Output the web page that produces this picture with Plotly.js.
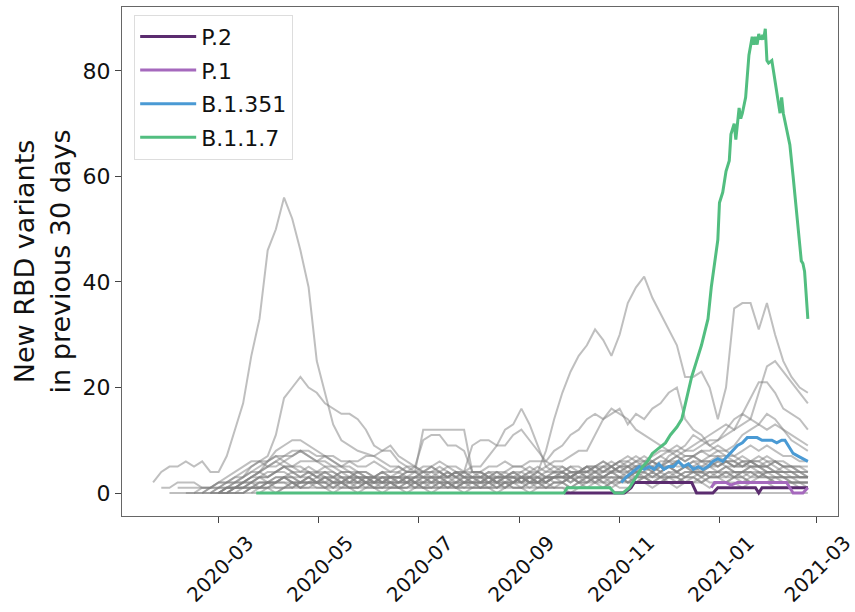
<!DOCTYPE html>
<html>
<head>
<meta charset="utf-8">
<script src="https://cdn.plot.ly/plotly-3.0.1.min.js"></script>
<style>html,body{margin:0;padding:0;background:#fff;}#chart{width:855px;height:612px;}</style>
</head>
<body>
<div id="chart"></div>
<script>
// ---- shared x grid for background (gray) series: every 5 days from 2020-01-21 (81 points) ----
const gridStart = '2020-01-21';
const gridStepDays = 5;
const gridCount = 81;

// ---- background RBD variant series (gray), one value per grid date ----
const gray01 = [2,4,5,5,6,5,6,4,4,7,
  12,17,26,33,46,50,56,52,46,39,
  25,19,13,10,9,8,7.5,7,6,5,
  5,4,4,3,3,4,3,3,2,3,
  2,2,3,2,2,3,2,2,1,2,
  2,3,2,2,3,3,2,3,2,3,
  3,2,2,3,3,2,2,3,2,2,
  2,3,3,2,2,2,3,2,2,2,
  2];
const gray02 = [null,null,null,1,1,1,1,1,2,2,
  3,4,5,6,7,11,18,20,22,20,
  19,17,16,15,15,14,12,9,8,8,
  6,5,5,4,4,5,4,3,4,3,
  3,4,3,3,3,2,3,3,2,3,
  3,3,4,3,3,3,4,3,3,4,
  3,3,4,3,3,4,4,3,4,4,
  5,4,4,5,4,4,4,3,3,3,
  3];
const gray03 = [null,null,null,null,null,null,null,null,0,1,
  1,2,2,3,3,4,4,3,3,4,
  3,3,3,4,3,3,3,2,3,3,
  2,3,3,4,3,3,4,3,3,4,
  4,3,4,3,4,4,3,4,8,14,
  19,23,26,28,31,29,26,30,36,39,
  41,37,34,31,28,22,22,23,20,14,
  20,35,36,36,31,36,30,25,22,20,
  19];
const gray04 = [null,null,null,null,null,null,null,null,null,null,
  null,0,1,1,2,2,3,2,2,3,
  2,2,3,2,2,3,2,2,3,2,
  2,2,3,3,2,3,2,2,3,2,
  3,3,2,3,3,4,5,4,5,6,
  6,7,8,8,11,14,15,16,13,15,
  14,16,17,19,20,14,12,11,9,8,
  7,7,6,6,5,5,4,4,4,3,
  3];
const gray05 = [null,null,null,null,null,null,null,null,null,null,
  null,null,null,null,null,0,1,1,2,2,
  2,3,2,2,3,2,3,3,2,3,
  3,2,3,3,2,3,3,4,3,3,
  4,3,4,4,5,5,6,6,6,8,
  9,11,12,14,15,14,16,15,14,12,
  11,10,9,8,8,7,7,6,6,7,
  6,6,5,5,5,4,4,4,3,3,
  3];
const gray06 = [null,null,null,null,null,null,null,null,0,1,
  1,1,2,2,2,3,3,2,2,3,
  2,3,2,2,3,2,2,3,2,2,
  3,2,2,3,3,2,3,2,2,3,
  3,2,3,3,2,3,3,4,3,4,
  4,5,4,5,5,6,5,6,6,7,
  6,7,8,8,9,8,9,10,9,10,
  11,12,13,14,19,24,25,23,21,19,
  17];
const gray07 = [null,null,null,null,null,null,null,null,null,0,
  0,1,1,2,2,2,3,3,2,2,
  3,2,2,3,2,2,3,2,2,2,
  2,3,2,2,3,2,2,3,2,2,
  2,3,2,2,3,3,2,3,3,4,
  3,4,4,5,4,5,5,6,5,6,
  5,6,5,7,8,9,11,10,11,12,
  13,12,15,18,21,21,19,16,15,14,
  12];
const gray08 = [null,null,null,null,null,null,null,null,null,null,
  null,null,0,1,1,2,2,1,2,2,
  2,1,2,2,1,2,2,1,2,2,
  1,2,2,1,2,2,2,1,2,2,
  2,2,1,2,2,3,2,2,3,3,
  4,3,4,4,5,5,4,5,6,5,
  6,6,7,6,7,8,8,9,10,10,
  12,14,15,14,13,15,14,12,11,10,
  9];
const gray09 = [null,null,null,null,null,null,null,null,null,null,
  null,null,null,0,1,1,1,2,1,1,
  2,1,1,2,1,1,2,1,1,2,
  1,1,2,1,1,2,1,1,2,1,
  1,2,2,1,2,2,2,3,2,3,
  3,3,4,3,4,4,5,4,5,5,
  5,6,5,6,6,7,7,8,8,9,
  8,9,11,12,13,12,13,12,10,9,
  8];
const gray10 = [null,null,null,null,0,0,1,1,1,2,
  2,3,4,5,6,7,7,8,8,7,
  6,5,5,4,4,3,3,3,2,3,
  3,3,4,12,12,12,12,12,12,4,
  3,3,2,3,3,2,3,2,3,3,
  2,3,3,2,3,3,4,3,3,4,
  4,3,4,5,4,5,4,4,5,4,
  5,4,4,5,5,4,4,5,4,4,
  3];
const gray11 = [null,null,null,null,null,null,0,0,1,1,
  2,2,3,4,6,8,9,10,10,9,
  8,7,6,5,5,4,4,3,3,3,
  3,4,5,10,11,11,9,9,8,4,
  4,3,3,3,2,3,3,2,2,3,
  3,2,3,3,2,3,3,2,3,3,
  3,4,3,3,4,3,4,4,3,4,
  4,3,4,4,3,4,4,3,3,3,
  3];
const gray12 = [null,null,null,null,null,null,null,0,0,1,
  1,2,3,4,5,6,7,7,8,8,
  7,7,6,5,4,4,3,3,4,3,
  3,3,2,3,3,3,4,3,4,9,
  10,10,9,9,11,12,10,8,6,5,
  5,4,4,5,4,5,6,5,5,6,
  6,5,6,6,7,6,7,6,7,7,
  7,6,7,6,6,7,6,6,5,5,
  5];
const gray13 = [null,null,null,null,null,null,null,null,0,0,
  1,1,2,3,3,4,5,5,6,6,
  6,7,7,6,6,5,5,6,5,4,
  4,5,4,4,5,4,3,4,4,5,
  5,7,9,12,13,16,13,9,5,4,
  4,3,4,4,5,4,5,4,5,4,
  5,4,5,5,4,5,6,5,6,5,
  6,5,5,6,5,5,6,5,5,4,
  4];
const gray14 = [null,null,0,0,0,0,0,0,0,0,
  0,0,0,0,0,0,0,0,0,0,
  0,0,0,0,0,0,0,0,0,0,
  0,0,0,0,0,0,0,0,0,0,
  0,0,0,0,0,0,0,0,0,0,
  0,0,0,0,0,0,0,0,0,0,
  0,0,0,0,0,0,0,0,0,0,
  0,0,0,0,0,0,0,0,0,0,
  0];
const gray15 = [null,1,1,2,2,2,1,1,2,2,
  3,3,4,4,3,4,5,4,3,4,
  3,4,3,3,2,3,2,3,3,2,
  2,3,2,2,1,2,2,1,2,2,
  1,2,1,1,2,1,2,2,1,2,
  2,1,2,2,3,2,2,3,2,2,
  3,2,3,3,2,3,3,2,3,3,
  2,3,3,2,3,3,2,2,2,1,
  1];
const gray16 = [null,null,null,null,null,0,0,1,1,2,
  2,3,5,6,6,7,6,5,5,4,
  4,5,4,3,3,4,3,2,3,3,
  4,3,3,4,5,4,3,4,3,3,
  2,3,3,4,3,3,4,3,4,5,
  4,5,5,4,5,6,5,6,7,6,
  7,6,7,8,7,6,7,8,7,8,
  8,7,8,9,8,9,8,7,7,6,
  6];
const gray17 = [null,null,null,null,null,null,null,0,0,1,
  1,1,2,1,2,2,3,2,2,3,
  2,2,1,2,1,1,2,1,1,1,
  1,1,2,1,1,1,2,1,1,1,
  1,1,1,2,1,1,1,1,2,1,
  2,1,1,2,2,1,2,2,3,2,
  3,2,2,3,3,2,3,4,3,3,
  4,3,4,4,3,4,3,3,3,2,
  2];
const gray18 = [null,null,null,null,null,null,null,null,0,0,
  1,1,1,2,2,3,3,4,3,3,
  4,3,3,2,3,3,2,2,2,3,
  2,2,3,2,3,3,2,2,3,2,
  2,3,2,3,3,2,3,3,2,3,
  3,3,2,3,4,3,4,4,3,4,
  4,5,4,5,4,5,5,4,5,5,
  6,5,5,6,6,5,6,5,5,4,
  4];
const gray19 = [null,null,null,null,null,null,null,null,null,0,
  0,0,1,1,1,0,1,1,1,1,
  1,1,0,1,1,0,1,1,0,1,
  1,0,1,1,0,1,1,1,0,1,
  1,1,0,1,1,1,0,1,1,1,
  1,0,1,1,1,1,2,1,1,2,
  2,1,2,2,1,2,2,2,1,2,
  2,2,1,2,2,2,1,1,1,1,
  1];
const gray20 = [null,null,null,null,null,null,0,1,2,3,
  4,5,6,6,5,6,5,5,4,5,
  4,4,3,4,4,3,3,3,4,3,
  3,4,4,5,5,6,5,5,4,4,
  4,5,5,6,5,5,4,5,4,4,
  5,4,4,5,5,4,5,4,4,5,
  5,4,5,6,5,5,4,5,5,6,
  5,5,6,5,5,6,5,4,4,4,
  3];
const gray21 = [null,null,null,null,null,null,null,null,0,1,
  1,2,3,4,5,5,6,7,8,7,
  6,6,5,5,6,6,7,7,8,9,
  7,6,5,4,4,3,3,4,3,3,
  3,2,3,3,4,3,3,2,3,3,
  3,4,3,4,4,3,4,5,4,5,
  5,6,5,5,6,5,6,6,5,6,
  6,5,6,6,5,5,4,4,4,3,
  3];
const gray22 = [null,null,null,null,null,null,null,0,1,1,
  2,2,2,3,2,2,3,3,2,2,
  2,3,2,2,2,1,2,2,2,1,
  2,2,1,2,2,2,1,2,2,2,
  2,1,2,2,2,3,2,2,2,3,
  3,2,3,3,2,3,3,3,4,3,
  3,4,3,4,4,3,4,4,4,3,
  4,4,3,4,4,3,3,3,2,2,
  2];
const gray23 = [null,null,null,null,null,null,null,null,null,0,
  1,1,1,1,2,1,1,2,1,2,
  1,1,2,1,1,1,1,2,1,1,
  1,2,1,1,1,1,2,1,1,2,
  1,1,1,2,1,1,2,1,1,1,
  1,1,2,1,2,2,1,2,2,2,
  2,2,3,2,2,3,3,2,3,3,
  3,3,2,3,3,3,2,2,2,2,
  1];
const gray24 = [null,null,null,null,null,null,null,null,0,0,
  1,2,3,3,4,4,5,4,4,4,
  3,4,4,3,3,4,4,3,4,4,
  5,4,4,3,4,4,5,4,4,3,
  3,4,4,3,4,3,4,4,3,3,
  4,3,4,4,3,4,4,5,5,4,
  5,5,4,5,6,5,5,6,6,5,
  6,6,5,6,7,6,6,5,5,5,
  4];
const gray25 = [null,null,null,null,null,null,null,null,null,null,
  0,0,1,1,1,2,2,2,1,2,
  2,2,1,1,2,2,1,1,1,2,
  1,1,1,2,2,1,1,2,1,1,
  2,2,2,1,2,2,1,2,3,2,
  2,3,2,3,3,2,3,3,2,3,
  4,3,3,4,3,4,4,3,4,4,
  3,4,4,3,4,3,3,3,2,2,
  2];

// ---- named variants ----
const variantNames = ['P.2', 'P.1', 'B.1.351', 'B.1.1.7'];

const p2Dates = ['2020-09-28','2020-10-30','2020-11-04','2020-11-08','2020-11-10','2020-12-15','2020-12-18','2020-12-28','2020-12-31','2021-01-23','2021-01-25','2021-01-27','2021-02-24'];
const p2Values = [0,0,0,1,2,2,0,0,1,1,0,1,1];

const p1Dates = ['2020-12-27','2020-12-29','2021-01-05','2021-01-08','2021-01-12','2021-01-20','2021-01-28','2021-02-05','2021-02-11','2021-02-13','2021-02-15','2021-02-21','2021-02-24'];
const p1Values = [1,2,2,1.5,2,2,2,2,2,1,0,0,1];

const b1351Dates = ['2020-11-02','2020-11-05','2020-11-09','2020-11-13','2020-11-16','2020-11-19','2020-11-22','2020-11-25','2020-11-28','2020-12-01','2020-12-04','2020-12-07','2020-12-10','2020-12-13','2020-12-16','2020-12-19','2020-12-22','2020-12-25','2020-12-28','2020-12-31','2021-01-03','2021-01-06','2021-01-09','2021-01-12','2021-01-15','2021-01-18','2021-01-21','2021-01-24','2021-01-27','2021-01-30','2021-02-02','2021-02-05','2021-02-08','2021-02-10','2021-02-12','2021-02-15','2021-02-18','2021-02-21','2021-02-24'];
const b1351Values = [2,3,4,5,4.5,5,4.5,5.5,4.5,5,5,6,5,5.5,4.5,5,4.5,5,6,6.5,6,7,8,9,9.5,10.5,10.5,10.5,10,10,10,9.5,10,10,9,7.5,7,6.5,6];

const b117Dates = ['2020-03-24','2020-09-28','2020-09-30','2020-10-26','2020-10-29','2020-11-03','2020-11-07','2020-11-11','2020-11-15','2020-11-18','2020-11-21','2020-11-25','2020-11-29','2020-12-02','2020-12-06','2020-12-09','2020-12-12','2020-12-15','2020-12-18','2020-12-21','2020-12-23','2020-12-25','2020-12-27','2020-12-29','2020-12-31','2021-01-01','2021-01-03','2021-01-05','2021-01-07','2021-01-08','2021-01-09','2021-01-10','2021-01-11','2021-01-12','2021-01-13','2021-01-14','2021-01-15','2021-01-17','2021-01-19','2021-01-21','2021-01-22','2021-01-23','2021-01-24','2021-01-25','2021-01-26','2021-01-27','2021-01-28','2021-01-29','2021-01-30','2021-01-31','2021-02-02','2021-02-03','2021-02-05','2021-02-07','2021-02-08','2021-02-09','2021-02-11','2021-02-13','2021-02-15','2021-02-17','2021-02-19','2021-02-20','2021-02-21','2021-02-22','2021-02-24'];
const b117Values = [0,0,1,1,0,0,1,3,5,6,7.5,8.5,9.5,11,12.5,14,18,22,25,28,30.5,33,39,44,48,55,57,61,63,68,69,70,67,70,73,71,72,75,83,86.5,85,86.5,85,87,86,86.5,86,88,82,81.5,82,80,76,72,75,72,69,66,60,54,48,44,43.5,42,33];

// ---- axis ticks ----
const xTickVals = ['2020-03-01','2020-05-01','2020-07-01','2020-09-01','2020-11-01','2021-01-01','2021-03-01'];
const xTickText = ['2020-03','2020-05','2020-07','2020-09','2020-11','2021-01','2021-03'];
const yTickVals = [0,20,40,60,80];

const variantColors = ['#5B2C6F', '#A569BD', '#4A9AD4', '#52BE80'];

// build the date grid (x positions of the gray series)
function makeGrid(start, step, n) {
  const out = [];
  const t0 = Date.parse(start + 'T00:00:00Z');
  for (let i = 0; i < n; i++) {
    out.push(new Date(t0 + i * step * 86400000).toISOString().slice(0, 10));
  }
  return out;
}
const gridDates = makeGrid(gridStart, gridStepDays, gridCount);

const grays = [gray01,gray02,gray03,gray04,gray05,gray06,gray07,gray08,gray09,gray10,
  gray11,gray12,gray13,gray14,gray15,gray16,gray17,gray18,gray19,gray20,gray21,
  gray22,gray23,gray24,gray25];

const traces = grays.map(g => ({
  type: 'scatter', mode: 'lines', x: gridDates, y: g,
  line: {color: 'rgba(128,128,128,0.5)', width: 2},
  showlegend: false, hoverinfo: 'skip'
}));

const variantX = [p2Dates, p1Dates, b1351Dates, b117Dates];
const variantY = [p2Values, p1Values, b1351Values, b117Values];
variantNames.forEach((name, i) => {
  traces.push({
    type: 'scatter', mode: 'lines', name: name,
    x: variantX[i], y: variantY[i],
    line: {color: variantColors[i], width: 3},
    legendgroup: 'g' + i
  });
});

const fontFam = 'DejaVu Sans, sans-serif';
const layout = {
  width: 855, height: 612,
  margin: {l: 122, r: 17, t: 7, b: 96},
  paper_bgcolor: '#fff', plot_bgcolor: '#fff',
  font: {family: fontFam, color: '#111'},
  showlegend: true,
  xaxis: {
    type: 'date',
    range: ['2020-01-02', '2021-03-14 10:00'],
    tickvals: xTickVals, ticktext: xTickText,
    tickangle: -45, ticklabelshift: 29, ticklabeloverflow: 'allow',
    tickfont: {size: 20, family: fontFam},
    ticks: 'outside', ticklen: 6, tickcolor: '#444',
    showline: true, linecolor: '#666', linewidth: 1.2, mirror: true,
    showgrid: false, zeroline: false
  },
  yaxis: {
    range: [-4.36, 92.13],
    tickvals: yTickVals,
    tickfont: {size: 22, family: fontFam},
    ticks: 'outside', ticklen: 6, tickcolor: '#444',
    showline: true, linecolor: '#666', linewidth: 1.2, mirror: true,
    showgrid: false, zeroline: false,
    title: {text: 'New RBD variants<br>in previous 30 days', font: {size: 27, family: fontFam}, standoff: 4}
  },
  legend: {
    x: 0.017, y: 0.985, xanchor: 'left', yanchor: 'top',
    bgcolor: 'rgba(255,255,255,0.85)', bordercolor: '#dddddd', borderwidth: 1,
    font: {size: 22, family: fontFam},
    itemwidth: 56,
    traceorder: 'grouped', tracegroupgap: 2
  }
};

Plotly.newPlot('chart', traces, layout, {displayModeBar: false, staticPlot: true});
</script>
</body>
</html>
